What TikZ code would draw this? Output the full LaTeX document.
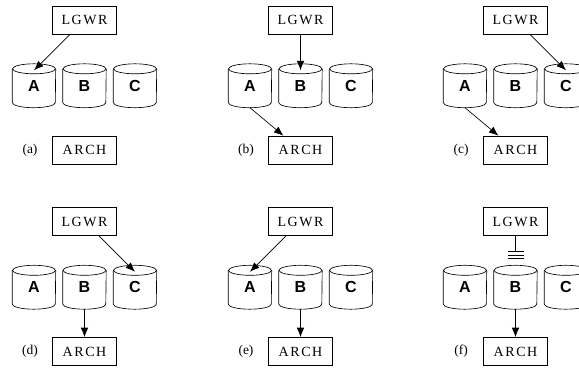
\documentclass[tikz,border=0pt]{standalone}
\usepackage{fontspec}
\setmainfont{Liberation Serif}
\newfontfamily\boxfont[LetterSpace=11]{Liberation Serif}
\newfontfamily\drumfont{Liberation Sans}
\usetikzlibrary{arrows.meta,calc}
\tikzset{
  line/.style={line width=0.65pt},
  arr/.style={line, -{Latex[length=9.5pt,width=7.5pt]}},
  procbox/.style={draw, line width=0.65pt, minimum width=64pt, minimum height=28pt, inner sep=0pt, font=\boxfont\fontsize{14pt}{16pt}\selectfont},
  drumtxt/.style={minimum width=43pt, minimum height=43.5pt, inner sep=0pt, font=\drumfont\bfseries\fontsize{16pt}{18pt}\selectfont},
  lbl/.style={inner sep=0pt, font=\fontsize{13.5pt}{15pt}\selectfont},
}
\newcommand{\drum}[3]{%
  \node[drumtxt] (#1) at (#2) {#3};
  \draw[line] ([yshift=-5pt]#1.north) ellipse [x radius=21.5pt, y radius=5pt];
  \draw[line] ([yshift=-5pt]#1.north west) -- ([yshift=5pt]#1.south west)
     arc [start angle=180, end angle=360, x radius=21.5pt, y radius=5pt]
     -- ([yshift=-5pt]#1.north east);
  \coordinate (#1-top) at ([yshift=-6.5pt]#1.north);
}
\newcommand{\panel}[4]{% #1 prefix, #2 dx, #3 dy, #4 label
  \node[procbox] (#1L) at (#2+84.5, #3+20) {LGWR};
  \drum{#1A}{#2+34, #3+85.75}{A}
  \drum{#1B}{#2+84.5, #3+85.75}{B}
  \drum{#1C}{#2+135, #3+85.75}{C}
  \node[procbox] (#1R) at (#2+84.5, #3+150) {ARCH};
  \node[lbl] (#1lab) at (#2+30, #3+150) {(#4)};
}
\begin{document}
\begin{tikzpicture}[x=1pt, y=-1pt]
\useasboundingbox (0,0) rectangle (579,369);
\clip (0,0) rectangle (579,369);
\panel{a}{0}{0}{a}
\panel{b}{216}{0}{b}
\panel{c}{431}{0}{c}
\panel{d}{0}{201.5}{d}
\panel{e}{216}{201.5}{e}
\panel{f}{431}{201.5}{f}
% (a)
\draw[arr] (aL) -- (aA-top);
% (b)
\draw[arr] (bL) -- (bB-top);
\draw[arr] (bA.south) -- (bR);
% (c)
\draw[arr] (cL) -- (cC-top);
\draw[arr] (cA.south) -- (cR);
% (d)
\draw[arr] (dL) -- (dC-top);
\draw[arr] (dB.south) -- (dR.north);
% (e)
\draw[arr] (eL) -- (eA-top);
\draw[arr] (eB.south) -- (eR.north);
% (f)
\coordinate (fbar) at ([yshift=-15.5pt]fL.south);
\draw[line] (fL.south) -- (fbar);
\draw[line] ([xshift=-8pt]fbar) -- ([xshift=8pt]fbar);
\draw[line] ([xshift=-8pt,yshift=-3.5pt]fbar) -- ([xshift=8pt,yshift=-3.5pt]fbar);
\draw[line] ([xshift=-8pt,yshift=-7pt]fbar) -- ([xshift=8pt,yshift=-7pt]fbar);
\draw[arr] (fB.south) -- (fR.north);
\end{tikzpicture}
\end{document}
